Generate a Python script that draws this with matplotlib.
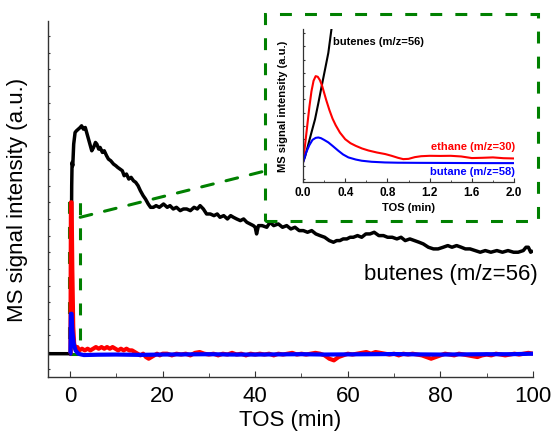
import matplotlib
matplotlib.use("Agg")
import matplotlib.pyplot as plt
import numpy as np
from matplotlib.patches import Rectangle, ConnectionPatch
from matplotlib.ticker import MultipleLocator, FormatStrFormatter

plt.rcParams['font.family'] = ['Liberation Sans', 'DejaVu Sans']

# main trace, TOS (min) vs intensity (a.u.)
butenes = [(-4.8, 0.9), (0.0, 0.9), (0.15, 0.9), (0.25, 6.0), (0.37, 11.0), (0.45, 12.4),
           (0.6, 12.2), (0.8, 13.5), (1.1, 14.2), (1.4, 14.3), (1.8, 14.4), (2.2, 14.5),
           (2.5, 14.6), (2.9, 14.4), (3.3, 14.5), (3.6, 14.2), (4.0, 13.8), (4.4, 13.4),
           (4.7, 13.1), (5.1, 13.3), (5.5, 13.6), (5.8, 13.5), (6.2, 13.2), (6.5, 13.3),
           (7.0, 13.0), (7.4, 13.1), (7.9, 12.8), (8.3, 12.6), (8.8, 12.5), (9.4, 12.3),
           (9.9, 12.2), (10.3, 12.1), (10.8, 12.0), (11.3, 11.9), (11.7, 11.6), (12.2, 11.7),
           (12.7, 11.4), (13.2, 11.5), (13.7, 11.3), (14.2, 11.2), (14.7, 11.0), (15.2, 10.7),
           (15.8, 10.4), (16.3, 10.2), (16.9, 9.9), (17.4, 9.7), (18.0, 9.7), (18.6, 9.8),
           (19.3, 9.7), (20.2, 9.9), (21.0, 9.7), (21.6, 9.8), (22.3, 9.6), (23.0, 9.7),
           (23.8, 9.5), (24.5, 9.6), (25.2, 9.6), (26.0, 9.5), (26.8, 9.7), (27.5, 9.6),
           (28.1, 9.8), (28.8, 9.6), (29.5, 9.3), (30.3, 9.3), (31.1, 9.2), (31.8, 9.3),
           (32.4, 9.1), (33.2, 9.2), (34.0, 9.0), (34.7, 9.2), (35.3, 9.1), (36.0, 9.0),
           (36.8, 8.9), (37.5, 9.0), (38.2, 8.8), (38.9, 8.7), (39.6, 8.6), (40.0, 8.5),
           (40.3, 8.1), (40.7, 8.6), (41.5, 8.6), (42.5, 8.5), (43.2, 8.8), (44.0, 8.6),
           (45.0, 8.7), (45.9, 8.5), (46.8, 8.6), (47.7, 8.4), (48.6, 8.5), (49.5, 8.3),
           (50.4, 8.3), (51.3, 8.2), (52.2, 8.3), (53.1, 8.1), (54.0, 8.0), (55.0, 7.9),
           (56.0, 7.7), (56.9, 7.6), (57.6, 7.7), (58.3, 7.7), (59.0, 7.8), (59.8, 7.8),
           (60.5, 7.9), (61.2, 7.9), (62.1, 8.0), (63.0, 7.9), (63.9, 8.1), (64.8, 8.1),
           (65.7, 8.2), (66.7, 8.0), (67.7, 8.0), (68.6, 7.9), (69.6, 7.9), (70.6, 7.8),
           (71.5, 7.9), (72.4, 7.7), (73.4, 7.8), (74.4, 7.7), (75.4, 7.6), (76.3, 7.5),
           (77.4, 7.3), (78.5, 7.2), (79.5, 7.2), (80.6, 7.3), (81.6, 7.4), (82.5, 7.3),
           (83.5, 7.4), (84.5, 7.3), (85.4, 7.2), (86.4, 7.2), (87.5, 7.1), (88.6, 7.0),
           (89.7, 7.1), (90.9, 7.0), (92.2, 7.1), (93.4, 7.0), (94.6, 7.1), (95.8, 7.0),
           (96.8, 7.0), (97.9, 7.1), (98.5, 7.3), (99.0, 7.3), (99.5, 7.0), (100.0, 7.1)]

ethane = [(-0.1, 0.9), (0.1, 0.9), (0.2, 10.0), (0.35, 10.0), (0.5, 6.0), (0.7, 2.5),
          (0.9, 1.5), (1.2, 1.2), (1.6, 1.3), (2.0, 1.1), (2.6, 1.2), (3.2, 1.1), (3.8, 1.2),
          (4.4, 1.1), (5.0, 1.2), (5.6, 1.3), (6.2, 1.2), (6.8, 1.3), (7.4, 1.2), (8.0, 1.3),
          (8.6, 1.2), (9.2, 1.3), (9.8, 1.2), (10.4, 1.1), (11.0, 1.2), (11.6, 1.1),
          (12.2, 1.2), (12.8, 1.1), (13.4, 1.1), (14.0, 1.0), (14.6, 0.9), (15.2, 0.8),
          (15.8, 0.9), (16.4, 0.7), (17.0, 0.6), (17.6, 0.7), (18.2, 0.8), (18.8, 0.9),
          (19.4, 0.8), (20, 0.9), (21, 0.9), (22, 0.8), (23, 0.9), (24, 0.85), (25, 0.9),
          (26, 0.8), (27, 0.95), (28, 1.0), (29, 0.9), (30, 0.85), (31, 0.9), (32, 0.8),
          (33, 0.9), (34, 0.85), (35, 0.95), (36, 0.85), (37, 0.9), (38, 0.8), (39, 0.9),
          (40, 0.85), (41, 0.9), (42, 0.85), (43, 0.9), (44, 0.8), (45, 0.9), (46, 0.85),
          (47, 0.9), (48, 0.95), (49, 0.85), (50, 0.9), (51, 0.85), (52, 0.9), (53, 0.95),
          (54, 0.9), (55, 0.8), (56, 0.6), (57, 0.5), (58, 0.7), (59, 0.8), (60, 0.9),
          (61, 0.85), (62, 0.9), (63, 0.95), (64, 1.0), (65, 0.9), (66, 1.0), (67, 0.95),
          (68, 0.9), (69, 0.85), (70, 0.9), (71, 0.8), (72, 0.9), (73, 0.85), (74, 0.9),
          (75, 0.85), (76, 0.8), (77, 0.7), (78, 0.6), (79, 0.7), (80, 0.8), (81, 0.9),
          (82, 0.85), (83, 0.8), (84, 0.9), (85, 0.85), (86, 0.8), (87, 0.75), (88, 0.7),
          (89, 0.8), (90, 0.85), (91, 0.8), (92, 0.9), (93, 0.85), (94, 0.8), (95, 0.85),
          (96, 0.9), (97, 0.85), (98, 0.9), (99, 0.95), (100, 0.9)]

butane = [(-0.1, 0.9), (0.1, 0.9), (0.2, 3.3), (0.35, 3.3), (0.5, 2.3), (0.8, 1.5),
          (1.2, 1.1), (1.8, 0.9), (2.5, 0.85), (3, 0.82), (6, 0.84), (10, 0.85), (15, 0.83),
          (20, 0.85), (25, 0.86), (30, 0.87), (35, 0.85), (40, 0.85), (45, 0.86), (50, 0.87),
          (55, 0.85), (60, 0.86), (65, 0.87), (70, 0.88), (75, 0.86), (80, 0.85), (85, 0.86),
          (90, 0.87), (95, 0.87), (100, 0.9)]

# inset, first 2 min
in_butenes = [(0.0, 1.25), (0.02, 1.7), (0.05, 2.6), (0.08, 3.5), (0.114, 4.5),
              (0.145, 5.7), (0.177, 7.0), (0.21, 8.3), (0.24, 9.5), (0.27, 11.3), (0.3, 12.6)]
in_ethane = [(0.0, 1.25), (0.02, 2.6), (0.04, 4.0), (0.06, 5.4), (0.08, 6.6), (0.10, 7.4),
             (0.12, 7.75), (0.14, 7.7), (0.16, 7.45), (0.18, 7.05), (0.20, 6.5), (0.22, 5.95),
             (0.25, 5.2), (0.28, 4.55), (0.31, 4.05), (0.35, 3.5), (0.40, 3.0), (0.45, 2.7),
             (0.50, 2.5), (0.56, 2.3), (0.62, 2.15), (0.70, 2.0), (0.78, 1.88), (0.84, 1.75),
             (0.90, 1.6), (0.95, 1.5), (1.00, 1.52), (1.06, 1.65), (1.12, 1.72), (1.2, 1.75),
             (1.3, 1.74), (1.4, 1.75), (1.5, 1.7), (1.6, 1.58), (1.7, 1.6), (1.8, 1.63),
             (1.9, 1.57), (2.0, 1.55)]
in_butane = [(0.0, 1.25), (0.03, 2.0), (0.06, 2.55), (0.09, 2.95), (0.12, 3.1),
             (0.145, 3.13), (0.17, 3.08), (0.20, 2.95), (0.24, 2.76), (0.28, 2.5),
             (0.335, 2.13), (0.38, 1.85), (0.43, 1.63), (0.5, 1.47), (0.556, 1.38),
             (0.65, 1.3), (0.777, 1.25), (0.9, 1.23), (1.1, 1.22), (1.4, 1.21),
             (1.7, 1.2), (2.0, 1.2)]

green = '#008000'
spine_c = '#333333'
dash = (0, (3.9, 4.3))

fig = plt.figure(figsize=(5.54, 4.35), dpi=100)
ax = fig.add_axes([48/554, 1-378/435, 485/554, 356/435])

for data, c, lw in [(butenes, 'black', 2.5), (ethane, 'red', 3.0), (butane, 'blue', 3.0)]:
    d = np.array(data)
    ax.plot(d[:, 0], d[:, 1], color=c, lw=lw, solid_joinstyle='round',
            solid_capstyle='butt', clip_on=True)

ax.set_xlim(-4.75, 100)
ax.set_ylim(-0.5, 20.9)
ax.spines['top'].set_visible(False)
ax.spines['right'].set_visible(False)
for s in ['left', 'bottom']:
    ax.spines[s].set_color(spine_c)
    ax.spines[s].set_linewidth(1.0)
ax.xaxis.set_major_locator(MultipleLocator(20))
ax.xaxis.set_minor_locator(MultipleLocator(10))
ax.yaxis.set_major_locator(MultipleLocator(1))
ax.set_yticklabels([])
ax.tick_params(axis='x', which='major', direction='in', length=4.5, labelsize=16, pad=6,
               color=spine_c)
ax.tick_params(axis='x', which='minor', direction='in', length=2.7, color=spine_c)
ax.tick_params(axis='y', direction='in', length=1.5, color=spine_c)
ax.set_xlabel('TOS (min)', fontsize=16, labelpad=2)
ax.set_ylabel('MS signal intensity (a.u.)', fontsize=16, labelpad=11)
ax.text(101, 5.7, 'butenes (m/z=56)', fontsize=16, ha='right', va='center')

# zoom box on the main axes
ax.add_patch(Rectangle((-0.2, 0.9), 2.4, 9.2, fill=False, ec=green, lw=2.2,
                       ls=dash, clip_on=False))

# inset
ins = fig.add_axes([303/554, 1-182.7/435, 211/554, 152.7/435])
for data, c in [(in_butenes, 'black'), (in_ethane, 'red'), (in_butane, 'blue')]:
    d = np.array(data)
    ins.plot(d[:, 0], d[:, 1], color=c, lw=1.5)
ins.set_xlim(0, 2.0)
ins.set_ylim(-0.2, 11.3)
ins.spines['top'].set_visible(False)
ins.spines['right'].set_visible(False)
for s in ['left', 'bottom']:
    ins.spines[s].set_color(spine_c)
    ins.spines[s].set_linewidth(0.9)
ins.xaxis.set_major_locator(MultipleLocator(0.4))
ins.xaxis.set_minor_locator(MultipleLocator(0.2))
ins.yaxis.set_major_locator(MultipleLocator(1))
ins.set_yticklabels([])
ins.xaxis.set_major_formatter(FormatStrFormatter('%.1f'))
ins.tick_params(axis='x', which='major', direction='in', length=3, labelsize=8.5, pad=3,
                color=spine_c)
ins.tick_params(axis='x', which='minor', direction='in', length=1.8, color=spine_c)
ins.tick_params(axis='y', direction='in', length=1.5, color=spine_c)
for lab in ins.get_xticklabels():
    lab.set_fontweight('bold')
ins.set_xlabel('TOS (min)', fontsize=8, fontweight='bold', labelpad=3)
ins.set_ylabel('MS signal intensity (a.u.)', fontsize=8, fontweight='bold', labelpad=7)
ins.text(0.284, 10.4, 'butenes (m/z=56)', fontsize=8, fontweight='bold', va='center')
ins.text(2.01, 2.5, 'ethane (m/z=30)', fontsize=8, fontweight='bold', color='red',
         ha='right', va='center')
ins.text(2.01, 0.62, 'butane (m/z=58)', fontsize=8, fontweight='bold', color='blue',
         ha='right', va='center', clip_on=False)

# dashed frame around the inset and the connector
fig.add_artist(Rectangle((265/554, 1-222/435), 273/554, 207/435, fill=False, ec=green,
                         lw=2.2, ls=dash, transform=fig.transFigure))
fig.add_artist(ConnectionPatch(xyA=(2.2, 9.1), coordsA=ax.transData,
                               xyB=(265/554, 1-172/435), coordsB=fig.transFigure,
                               color=green, lw=2.2, ls=dash))

fig.savefig('out.png', dpi=100)
